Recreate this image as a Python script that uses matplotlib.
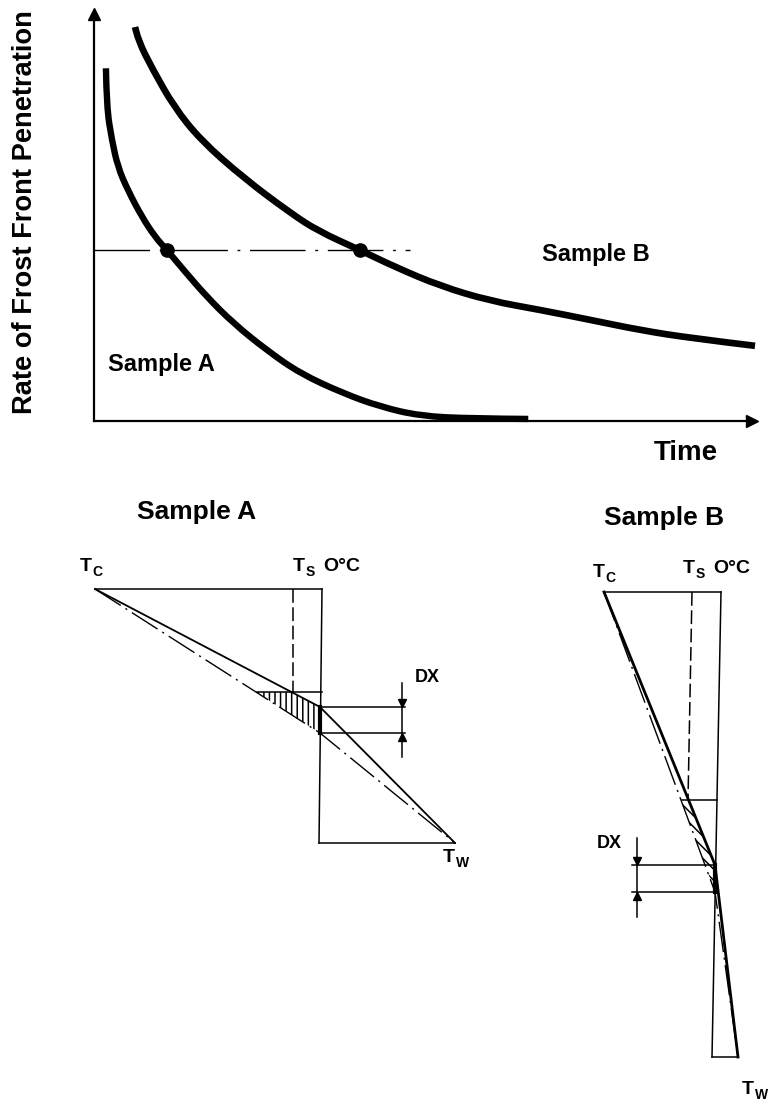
import numpy as np
import matplotlib
matplotlib.use("Agg")
import matplotlib.pyplot as plt
from matplotlib.path import Path
from matplotlib.patches import PathPatch

plt.rcParams['font.family'] = ['Liberation Sans', 'DejaVu Sans']
plt.rcParams['font.weight'] = 'bold'
plt.rcParams['hatch.linewidth'] = 1.1

# rate of frost front penetration against time (arbitrary units, 0-100)
time_a = [1.8, 1.9, 2.7, 3.6, 5.1, 7.2, 9.2, 11.0, 13.5, 17.0, 21.0, 26.0,
          31.1, 37.6, 43.1, 49.2, 57.0, 65.5]
rate_a = [85.4, 76.1, 68.0, 61.5, 55.9, 49.5, 44.6, 41.4, 36.6, 30.1, 23.7,
          17.2, 11.5, 6.7, 3.5, 1.2, 0.6, 0.5]
time_b = [6.2, 6.6, 8.9, 12.1, 16.1, 22.6, 29.6, 33.8, 40.1, 45.4,
          52.2, 59.7, 67.3, 74.8, 82.4, 89.9, 99.7]
rate_b = [95.4, 92.3, 85.0, 76.0, 68.0, 58.8, 50.4, 46.0, 41.4, 37.3,
          32.7, 29.1, 26.9, 24.5, 22.0, 20.1, 18.2]
rate_ref = 41.4
time_ref_end = 47.7
time_dots = [11.0, 40.1]

# temperature profiles, sketch coordinates (x = temperature, y = depth down)
a_top_x, a_top_y = [95, 322], [589, 589]
a_zero_x, a_zero_y = [322, 319], [589, 843]
a_bot_x, a_bot_y = [319, 455], [843, 843]
a_ts_x, a_ts_y = [293, 293], [589, 692]
a_front_x, a_front_y = [257, 322], [692, 692]
a_solid_x, a_solid_y = [95, 320, 455], [589, 707, 843]
a_dash_x, a_dash_y = [95, 320, 455], [589, 733, 843]

b_top_x, b_top_y = [604, 721], [592, 592]
b_zero_x, b_zero_y = [721, 712], [592, 1057]
b_bot_x, b_bot_y = [712, 738], [1057, 1057]
b_ts_x, b_ts_y = [692, 688], [592, 800]
b_front_x, b_front_y = [682, 717], [800, 800]
b_solid_x, b_solid_y = [604, 715, 738], [592, 865, 1057]
b_dash_x, b_dash_y = [604, 715, 738], [592, 892, 1057]


def smooth_curve(ax, xs, ys, lw):
    # quadratic b-spline through the midpoints of the given points
    pts = list(zip(xs, ys))
    verts = [pts[0]]
    codes = [Path.MOVETO]
    for i in range(1, len(pts) - 1):
        if i == len(pts) - 2:
            end = pts[-1]
        else:
            end = ((pts[i][0] + pts[i + 1][0]) / 2, (pts[i][1] + pts[i + 1][1]) / 2)
        verts += [pts[i], end]
        codes += [Path.CURVE3, Path.CURVE3]
    patch = PathPatch(Path(verts, codes), facecolor='none', edgecolor='k',
                      lw=lw, capstyle='butt', clip_on=False)
    ax.add_patch(patch)


fig = plt.figure(figsize=(7.7, 11.17), dpi=100)

# ---- top chart ----
W, H = 770.0, 1117.0
ax = fig.add_axes([94 / W, 1 - 421 / H, (752 - 94) / W, (421 - 14) / H])
ax.set_xlim(0, 100 * 658 / 663)
ax.set_ylim(0, 100 * 407 / 413)
for s in ['top', 'right']:
    ax.spines[s].set_visible(False)
for s in ['left', 'bottom']:
    ax.spines[s].set_linewidth(1.6)
ax.set_xticks([])
ax.set_yticks([])
ax.patch.set_alpha(0)
ax.plot(1, 0, '>k', ms=9, transform=ax.get_yaxis_transform(), clip_on=False)
ax.plot(0, 1, '^k', ms=9, transform=ax.get_xaxis_transform(), clip_on=False)

ax.plot([0, time_ref_end], [rate_ref, rate_ref], color='k', lw=1.0,
        ls=(0, (40, 7, 2, 7)), clip_on=False)
smooth_curve(ax, time_a, rate_a, 4.6)
smooth_curve(ax, time_b, rate_b, 4.8)
ax.plot(time_dots, [rate_ref] * 2, 'o', color='k', ms=9.5, clip_on=False)

ax.text(67.6, 38.7, 'Sample B', fontsize=17, ha='left', va='baseline')
ax.text(2.1, 12.1, 'Sample A', fontsize=17, ha='left', va='baseline')

# ---- overlay for labels and the two profiles ----
ov = fig.add_axes([0, 0, 1, 1])
ov.set_xlim(0, W)
ov.set_ylim(H, 0)
ov.axis('off')
ov.patch.set_alpha(0)

ov.text(718, 460, 'Time', fontsize=20, ha='right', va='baseline')
ov.text(25, 212, 'Rate of Frost Front Penetration', fontsize=19.6,
        rotation=90, ha='center', va='center')

thin = dict(color='k', lw=1.1)
dashdot = (0, (22, 4, 1.5, 4))


def profile(top, zero, bot, ts, front, solid, dash, solid_lw):
    for xs, ys in [top, zero, bot, front]:
        ov.plot(xs, ys, **thin)
    ov.plot(ts[0], ts[1], color='k', lw=1.1, ls=(0, (9, 3)))
    ov.plot(solid[0], solid[1], color='k', lw=solid_lw)
    ov.plot(dash[0], dash[1], color='k', lw=1.0, ls=dashdot)

    # hatched wedge between the two gradients, below the front
    yf = front[1][0]
    xd = np.interp(yf, dash[1], dash[0])
    xs = np.interp(yf, solid[1], solid[0])
    poly_x = [xd, xs, solid[0][1], dash[0][1]]
    poly_y = [yf, yf, solid[1][1], dash[1][1]]
    return poly_x, poly_y


px, py = profile((a_top_x, a_top_y), (a_zero_x, a_zero_y), (a_bot_x, a_bot_y),
                 (a_ts_x, a_ts_y), (a_front_x, a_front_y),
                 (a_solid_x, a_solid_y), (a_dash_x, a_dash_y), 1.3)
ov.fill(px, py, facecolor='none', edgecolor='k', hatch='|||', lw=0)
ov.plot([a_solid_x[1], a_dash_x[1]], [a_solid_y[1], a_dash_y[1]], color='k', lw=3)

px, py = profile((b_top_x, b_top_y), (b_zero_x, b_zero_y), (b_bot_x, b_bot_y),
                 (b_ts_x, b_ts_y), (b_front_x, b_front_y),
                 (b_solid_x, b_solid_y), (b_dash_x, b_dash_y), 2.0)
ov.fill(px, py, facecolor='none', edgecolor='k', hatch='\\\\\\', lw=0)
ov.plot([b_solid_x[1], b_dash_x[1]], [b_solid_y[1], b_dash_y[1]], color='k', lw=3)


def dx_marker(x0, x1, xm, y1, y2, ytop, ybot):
    ov.plot([x0, x1], [y1, y1], **thin)
    ov.plot([x0, x1], [y2, y2], **thin)
    ov.plot([xm, xm], [ytop, ybot], **thin)
    ov.plot([xm], [y1 - 4], 'vk', ms=6)
    ov.plot([xm], [y2 + 4], '^k', ms=6)


dx_marker(a_solid_x[1], 405, 402, a_solid_y[1], a_dash_y[1], 683, 757)
dx_marker(632, b_solid_x[1], 637, b_solid_y[1], b_dash_y[1], 838, 917)
ov.text(427, 682, 'DX', fontsize=13, ha='center', va='baseline')
ov.text(609, 848, 'DX', fontsize=13, ha='center', va='baseline')

# titles and temperature labels
ov.text(197, 519, 'Sample A', fontsize=19, ha='center', va='baseline')
ov.text(664, 525, 'Sample B', fontsize=19, ha='center', va='baseline')


def tlabel(x, y, sub, rest=''):
    ov.text(x, y, 'T', fontsize=14, ha='left', va='baseline')
    ov.text(x + 12.5, y + 5, sub, fontsize=10, ha='left', va='baseline')
    if rest:
        ov.text(x + 30, y, rest, fontsize=14, ha='left', va='baseline')


tlabel(80, 571, 'C')
tlabel(293, 571, 'S', 'O\u00b0C')
tlabel(443, 862, 'W')
tlabel(593, 577, 'C')
tlabel(683, 573, 'S', 'O\u00b0C')
tlabel(742, 1094, 'W')

fig.savefig('out.png', dpi=100, facecolor='white')
